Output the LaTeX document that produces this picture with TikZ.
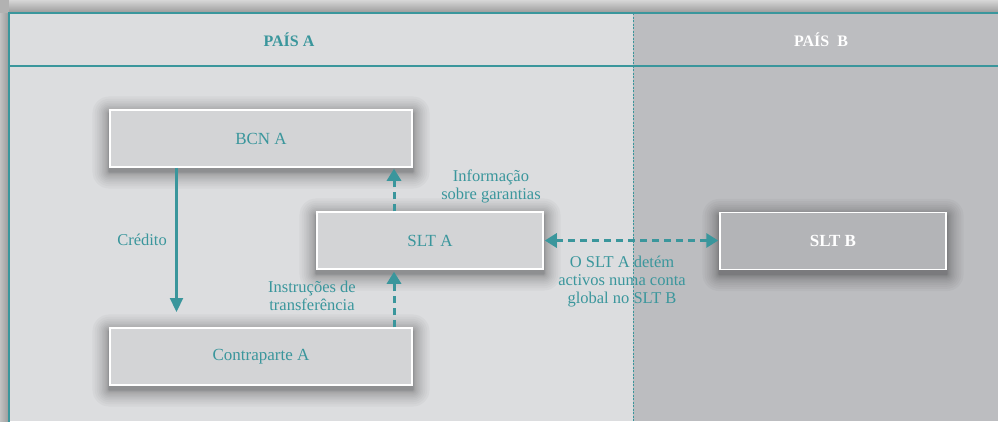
\documentclass[tikz,border=0pt]{standalone}
\usepackage{fontspec}
\setmainfont{Liberation Serif}
\newfontfamily\tnr{Liberation Serif}
\usetikzlibrary{arrows.meta}
\pgfdeclarelayer{bg}
\pgfdeclarelayer{shadowlayer}
\pgfsetlayers{bg,shadowlayer,main}
\definecolor{teal}{HTML}{3A969C}
\definecolor{lightbg}{HTML}{DCDDDF}
\definecolor{darkbg}{HTML}{BCBDC0}
\definecolor{boxA}{HTML}{D3D4D6}
\definecolor{boxB}{HTML}{B3B4B7}
\tikzset{
  boxstyle/.style={draw=white, line width=1.5pt, fill=boxA, minimum width=302pt, minimum height=57pt,
    inner sep=0pt, text=teal, font=\tnr\fontsize{17}{18}\selectfont},
  smallbox/.style={boxstyle, minimum width=226pt},
  lbl/.style={text=teal, font=\tnr\fontsize{16.5}{18}\selectfont, align=center, inner sep=0pt},
  solidarrow/.style={draw=teal, line width=2.2pt, -{Triangle[length=14pt,width=13pt]}},
  dasharrow/.style={draw=teal, line width=3pt, dash pattern=on 7pt off 5pt,
    -{Triangle[length=12pt,width=14pt]}},
  dasharrowboth/.style={draw=teal, line width=3pt, dash pattern=on 7pt off 5pt,
    {Triangle[length=12pt,width=14pt]}-{Triangle[length=12pt,width=14pt]}},
  headtxt/.style={font=\tnr\fontsize{16}{18}\selectfont\bfseries, inner sep=0pt},
  shadowring/.style={fill=black, fill opacity=0.026}
}
\newcommand{\softshadow}[1]{%
  \foreach \i in {1,...,14}{%
    \pgfmathsetmacro{\r}{0.5+\i*\i/12}%
    \fill[shadowring, rounded corners=\r pt]
      ([shift={(-\r,-\r+4)}]#1.north west) rectangle ([shift={(\r,\r+4)}]#1.south east);
  }%
}
\begin{document}
\begin{tikzpicture}[x=1pt,y=-1pt]
\useasboundingbox (0,0) rectangle (998,421);
\begin{pgfonlayer}{bg}
% outer strips with gradient
\shade[top color=white!84!black, bottom color=white!60!black] (0,0) rectangle (998,13);
\shade[left color=white!76!black, right color=white!60!black] (0,13) rectangle (9,421);
\fill[white!70!black] (0,0) rectangle (9,13);
% frame
\fill[lightbg] (9,13) rectangle (633,421);
\fill[darkbg] (633,13) rectangle (998,421);
\draw[teal, line width=1.2pt] (9,430) -- (9,13) -- (1000,13);
\draw[teal, line width=2pt] (9,66) -- (1000,66);
\draw[teal, line width=1pt, dash pattern=on 2pt off 1.5pt] (633,13) -- (633,430);
\end{pgfonlayer}
% headers
\node[headtxt, text=teal] (hA) at (289,40) {PAÍS A};
\node[headtxt, text=white] (hB) at (821,40) {PAÍS\ \ B};
% boxes
\node[boxstyle] (bcn) at (261,138.5) {BCN A};
\node[boxstyle] (cp) at (261,356.5) {Contraparte A};
\node[smallbox] (slta) at (430,240.5) {SLT A};
\node[smallbox, fill=boxB, text=white, font=\tnr\fontsize{17}{18}\selectfont\bfseries] (sltb) at (833,241) {SLT B};
\begin{pgfonlayer}{shadowlayer}
\softshadow{bcn}
\softshadow{cp}
\softshadow{slta}
\softshadow{sltb}
\end{pgfonlayer}
% arrows
\coordinate (credEnd) at (176.5,312);
\draw[solidarrow] (bcn.south -| credEnd) -- (credEnd);
\draw[dasharrow] (slta.north -| 394,0) -- ([yshift=-1pt]bcn.south -| 394,0);
\draw[dasharrow] (cp.north -| 394,0) -- ([yshift=-2pt]slta.south -| 394,0);
\draw[dasharrowboth] ([xshift=1pt]slta.east) -- ([xshift=-1pt]sltb.west |- slta.east);
% labels
\node[lbl] (lcred) at (142,240) {Crédito};
\node[lbl] (linfo) at (491,186) {Informação\\sobre garantias};
\node[lbl] (linst) at (312,296) {Instruções de\\transferência};
\node[lbl] (lglob) at (622,282) {O SLT A detém\\activos numa conta\\global no SLT B};
\end{tikzpicture}
\end{document}
